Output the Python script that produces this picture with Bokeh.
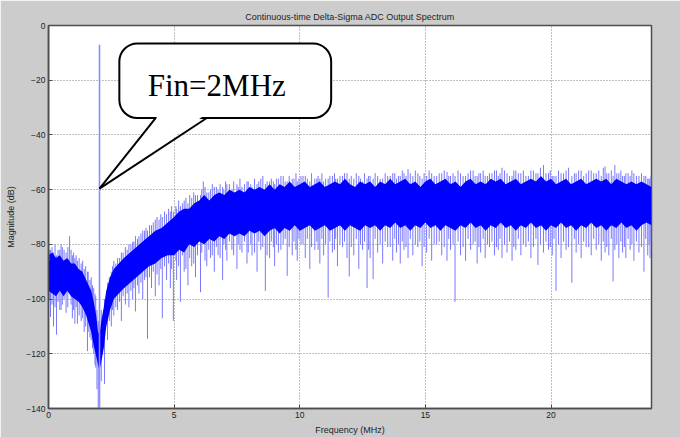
from bokeh.plotting import figure
from bokeh.models import (BoxAnnotation, PolyAnnotation, Label, FixedTicker, Range1d,
                          ColumnDataSource, Arrow)
from bokeh.embed import file_html
from bokeh.resources import INLINE

TITLE = "Continuous-time Delta-Sigma ADC Output Spectrum"
X_LABEL = "Frequency (MHz)"
Y_LABEL = "Magnitude (dB)"
X_TICKS = [0, 5, 10, 15, 20]
Y_TICKS = [0, -20, -40, -60, -80, -100, -120, -140]

# DC bin and the 2 MHz input tone (MHz, top dB, bottom dB)
tone_freq = [0.0, 2.03]
tone_top = [0, -7]
tone_bot = [-86, -140]

# dense core of the noise floor (MHz, dB)
env_freq = [0.0, 0.15, 0.3, 0.45, 0.6, 0.75, 0.9, 1.05, 1.2, 1.35, 1.5, 1.6, 1.7, 1.8, 1.9, 1.97,
            2.03, 2.1, 2.2, 2.3, 2.45, 2.6, 2.8, 3.0, 3.25, 3.5, 3.75, 4.0, 4.25, 4.5, 4.75,
            5.0, 5.2, 5.4, 5.6, 5.8, 6.0, 6.2, 6.4, 6.6, 6.8, 7.0, 7.2, 7.4, 7.6, 7.8,
            8.0, 8.2, 8.4, 8.6, 8.8, 9.0, 9.2, 9.4, 9.6, 9.8, 10.0, 10.2, 10.4, 10.6, 10.8,
            11.0, 11.2, 11.4, 11.6, 11.8, 12.0, 12.2, 12.4, 12.6, 12.8, 13.0, 13.2, 13.4,
            13.6, 13.8, 14.0, 14.2, 14.4, 14.6, 14.8, 15.0, 15.2, 15.4, 15.6, 15.8, 16.0,
            16.2, 16.4, 16.6, 16.8, 17.0, 17.2, 17.4, 17.6, 17.8, 18.0, 18.2, 18.4, 18.6,
            18.8, 19.0, 19.2, 19.4, 19.6, 19.8, 20.0, 20.2, 20.4, 20.6, 20.8, 21.0, 21.2,
            21.4, 21.6, 21.8, 22.0, 22.2, 22.4, 22.6, 22.8, 23.0, 23.2, 23.4, 23.6, 23.8, 24.0]
env_top = [-84, -83, -85, -84, -86, -85, -87, -87, -89, -90, -93, -95, -97, -101, -106, -112,
           -113, -108, -103, -97, -92, -89, -87, -85, -83, -81, -79, -77, -75, -74, -72,
           -70, -68, -67, -67, -65, -64, -62, -64, -62, -61, -62, -60, -61, -60, -61,
           -59, -60, -59, -60, -58, -60, -58, -59, -57, -59, -58, -57, -59, -58, -57,
           -59, -58, -57, -58, -56, -58, -59, -57, -58, -57, -59, -57, -58,
           -56, -58, -57, -56, -58, -57, -59, -57, -56, -58, -57, -56, -58,
           -57, -59, -57, -56, -58, -57, -58, -56, -57, -56, -58, -57, -56,
           -58, -57, -56, -57, -55, -57, -56, -58, -57, -56, -58, -57, -56,
           -58, -57, -56, -57, -56, -58, -56, -57, -58, -57, -58, -57, -58, -59]
env_bot = [-97, -98, -99, -97, -99, -97, -99, -100, -101, -103, -106, -109, -112, -117, -121, -124,
           -126, -123, -118, -110, -104, -100, -98, -96, -94, -92, -90, -88, -87, -85, -84,
           -84, -82, -83, -80, -81, -79, -80, -78, -79, -77, -78, -76, -77, -76, -77,
           -75, -76, -75, -77, -75, -74, -76, -74, -75, -73, -75, -74, -73, -75, -74,
           -73, -75, -74, -73, -75, -73, -74, -75, -73, -74, -73, -75, -73,
           -74, -72, -74, -73, -75, -73, -74, -72, -74, -73, -75, -73, -74,
           -75, -73, -74, -72, -74, -73, -75, -73, -74, -72, -74, -73, -75,
           -73, -74, -72, -74, -73, -75, -73, -74, -72, -74, -73, -75, -73,
           -74, -72, -74, -73, -75, -73, -74, -72, -74, -73, -75, -73, -72, -73]

# single bins standing out of the core (MHz, top dB, bottom dB)
spike_freq = [0.08, 0.2, 0.32, 0.45, 0.55, 0.7, 0.84, 0.95, 1.05, 1.15, 1.3, 1.42, 1.55,
              1.65, 1.75, 1.85, 1.93, 1.98, 2.1, 2.23, 2.35, 2.5, 2.6, 2.75, 2.9, 3.06,
              3.2, 3.35, 3.46, 3.6, 3.75, 3.94, 4.1, 4.25, 4.4, 4.53, 4.7, 4.85, 4.97, 5.1,
              5.25, 5.4, 5.55, 5.7, 5.85, 6.05, 6.16, 6.3, 6.45, 6.6, 6.75, 6.93, 7.1, 7.3,
              7.5, 7.7, 7.9, 8.1, 8.3, 8.45, 8.63, 8.8, 9.0, 9.15, 9.34, 9.5, 9.7, 9.9,
              10.05, 10.22, 10.4, 10.6, 10.8, 10.95, 11.13, 11.3, 11.5, 11.7, 11.88, 11.97,
              12.15, 12.35, 12.5, 12.68, 12.8, 12.92, 13.1, 13.3, 13.5, 13.7, 13.85, 14.0,
              14.15, 14.31, 14.5, 14.7, 14.87, 15.05, 15.25, 15.45, 15.65, 15.86, 16.0,
              16.18, 16.4, 16.6, 16.8, 17.06, 17.2, 17.38, 17.55, 17.75, 17.9, 18.05, 18.25,
              18.45, 18.6, 18.8, 19.0, 19.2, 19.48, 19.7, 19.9, 20.05, 20.2, 20.4, 20.6,
              20.83, 21.0, 21.2, 21.4, 21.6, 21.8, 22.0, 22.15, 22.3, 22.47, 22.54, 22.7,
              22.85, 22.98, 23.15, 23.3, 23.5, 23.7, 23.85, 23.94]
spike_top = [-82, -83, -84, -82, -81, -83, -77, -84, -85, -86, -87, -89, -90,
             -93, -95, -98, -104, -108, -104, -100, -94, -90, -86, -85, -83, -81,
             -80, -79, -77, -77, -75, -75, -73, -71, -71, -70, -69, -68, -68, -67,
             -66, -64, -65, -63, -62, -62, -57, -61, -60, -59, -60, -59, -58, -60,
             -58, -59, -57, -59, -58, -56, -58, -57, -58, -56, -55, -57, -56, -57,
             -55, -55, -57, -56, -56, -57, -56, -55, -56, -55, -54, -56,
             -56, -55, -57, -56, -55, -56, -55, -56, -55, -54, -56, -55,
             -54, -52.5, -55, -54, -56, -55, -54, -55, -54, -53.5, -55,
             -55, -54, -55, -53, -55, -54, -55, -54, -53, -55, -52, -54,
             -55, -53, -54, -55, -53, -54, -51, -54, -55, -55, -54, -53,
             -55, -54, -53, -54, -53, -54, -55, -51.5, -54, -55, -51, -54,
             -55, -54, -55, -54, -55, -55, -56, -56]
spike_bot = [-106.5, -110, -113, -104, -102, -105, -98, -107, -109, -109, -108, -112, -119,
             -114, -118, -124, -133, -140, -130, -131, -115, -110, -106, -104, -108, -102,
             -103, -100, -104.5, -98, -100, -114.5, -96, -99, -95, -107, -93, -96, -108, -93,
             -101, -90, -95, -88, -92, -97.5, -80, -88, -85, -90, -84, -93, -86, -82,
             -89, -83, -87, -84, -90, -82, -97, -85, -88, -83, -80, -91.5, -84, -86,
             -80, -85, -89, -82, -87, -84, -99.5, -83, -88, -81, -85, -91.7,
             -84, -89, -82, -96, -85, -92.7, -83, -87, -81, -86, -83, -87,
             -82, -85, -84, -81, -88, -83, -86, -80, -84, -86, -82,
             -101, -84, -86, -82, -87, -83, -85, -81, -84, -82, -85, -83,
             -86, -82, -84, -81, -85, -87.5, -83, -82, -84, -97, -85, -82,
             -94, -83, -85, -81, -84, -82, -86, -83, -84, -93.5, -82, -85,
             -83, -85, -82, -86, -83, -90, -84, -85]

# smaller fringes around the core (MHz, top dB, bottom dB)
fringe_freq = [0.05, 0.14, 0.26, 0.38, 0.5, 0.62, 0.77, 0.9, 1.0, 1.1, 1.22, 1.36, 1.48, 1.58,
               1.7, 1.8, 1.88,
               2.42, 2.55, 2.68, 2.83, 2.97, 3.13, 3.28, 3.4, 3.54, 3.68, 3.82, 3.88, 4.02,
               4.17, 4.32, 4.47, 4.62, 4.78, 4.9,
               5.07, 5.18, 5.33, 5.47, 5.62, 5.78, 5.93, 6.1, 6.23, 6.38, 6.52, 6.68, 6.83,
               6.98, 7.05, 7.2, 7.37, 7.55, 7.62, 7.8, 7.95, 8.05, 8.2, 8.37, 8.53, 8.7,
               8.87, 8.95, 9.07, 9.25, 9.42, 9.58, 9.77, 9.85, 9.97, 10.13, 10.3, 10.47,
               10.68, 10.73, 10.88, 11.03, 11.2, 11.38, 11.43, 11.6, 11.78, 12.05, 12.25,
               12.42, 12.58, 12.74, 13.0, 13.2, 13.4, 13.6, 13.78, 13.93, 14.08, 14.23,
               14.4, 14.6, 14.78, 14.95, 15.15, 15.35, 15.55, 15.75, 15.93, 16.1, 16.3,
               16.5, 16.7, 16.9, 16.98, 17.13, 17.3, 17.47, 17.65, 17.83, 17.97, 18.15,
               18.35, 18.52, 18.7, 18.9, 19.1, 19.3, 19.4, 19.58, 19.8, 19.97, 20.12,
               20.3, 20.5, 20.7, 20.93, 21.1, 21.3, 21.5, 21.7, 21.9, 22.08, 22.22, 22.4,
               22.62, 22.78, 22.92, 23.07, 23.22, 23.4, 23.6, 23.77, 23.9, 23.98]
fringe_top = [-82, -81, -80, -82, -80, -82, -81, -82, -83, -84, -85, -86, -88, -90,
              -92, -96, -99,
              -92, -88, -87, -85, -83, -82, -80, -79, -78, -76, -75, -74, -73,
              -72, -70, -69, -68, -67, -66,
              -66, -64, -65, -63, -62, -61, -62, -60, -59, -61, -58, -59, -58,
              -60, -57, -58, -57, -59, -56, -58, -57, -58, -56, -57, -55, -57,
              -56, -57, -56, -55, -57, -55, -56, -54, -56, -55, -56, -54,
              -56, -55, -54, -56, -55, -54, -56, -55, -54, -55, -54,
              -56, -54, -55, -54, -56, -54, -55, -54, -55, -53, -55,
              -54, -53, -55, -54, -53, -55, -54, -53, -55, -54, -53,
              -55, -54, -53, -55, -54, -53, -55, -54, -53, -54, -53,
              -55, -53, -54, -53, -55, -53, -54, -52, -54, -53, -55,
              -53, -54, -52, -54, -53, -55, -53, -54, -53, -52, -54, -53,
              -54, -53, -55, -54, -53, -55, -54, -55, -56, -55]
fringe_bot = [-100, -102, -103, -101, -104, -100, -103, -102, -104, -103, -106, -107, -110, -112,
              -115, -120, -125,
              -108, -104, -103, -101, -99, -98, -97, -96, -95, -94, -93, -92, -92,
              -90, -91, -89, -88, -87, -89,
              -86, -88, -84, -89, -85, -87, -84, -83, -86, -82, -84, -81, -85,
              -80, -82, -79, -84, -80, -82, -79, -83, -80, -83, -79, -81, -84,
              -79, -81, -80, -82, -78, -81, -79, -82, -78, -80, -78, -81,
              -79, -82, -78, -80, -79, -82, -78, -80, -79, -81, -78,
              -80, -79, -82, -78, -80, -79, -81, -78, -80, -79, -81,
              -78, -80, -79, -81, -78, -80, -79, -81, -78, -80, -79,
              -81, -78, -80, -79, -81, -78, -80, -79, -81, -78, -80,
              -79, -81, -78, -80, -79, -81, -78, -80, -79, -81, -78,
              -80, -79, -81, -78, -80, -79, -81, -78, -80, -79, -81, -78,
              -80, -79, -81, -78, -80, -79, -81, -78, -80, -79]

# call-out annotation ("Fin=2MHz"), in data units
CALLOUT_TEXT = "Fin=2MHz"
CALLOUT_BOX = dict(left=2.82, right=11.25, top=-6.6, bottom=-33.8)
CALLOUT_TAIL_X = [4.27, 2.03, 6.3]
CALLOUT_TAIL_Y = [-33.8, -59.6, -33.8]
CALLOUT_TEXT_POS = (3.95, -21.8)

BLUE = "#0000ff"
LIGHT_BLUE = "#7878ff"
TONE_BLUE = "#8c8cff"
AXIS_GRAY = "#4d4d4d"
TEXT_COLOR = "#222222"
FONT = "Liberation Sans"

p = figure(width=680, height=437, output_backend="svg", toolbar_location=None,
           x_range=Range1d(0, 24), y_range=Range1d(-140, 0),
           min_border_left=48, min_border_right=29, min_border_top=25, min_border_bottom=26,
           border_fill_color="#cccccc", background_fill_color="white", title=TITLE)

p.title.text_font = FONT
p.title.text_font_size = "9px"
p.title.text_font_style = "normal"
p.title.text_color = TEXT_COLOR
p.title.align = "center"
p.title.standoff = 7

p.outline_line_color = AXIS_GRAY
p.outline_line_width = 1.5

for ax, ticks in ((p.xaxis[0], X_TICKS), (p.yaxis[0], Y_TICKS)):
    ax.ticker = FixedTicker(ticks=ticks)
    ax.axis_line_color = AXIS_GRAY
    ax.axis_line_width = 1.5
    ax.major_tick_line_color = AXIS_GRAY
    ax.major_tick_in = 4
    ax.major_tick_out = 0
    ax.minor_tick_line_color = None
    ax.major_label_text_font = FONT
    ax.major_label_text_font_size = "8.5px"
    ax.major_label_text_color = TEXT_COLOR
    ax.major_label_standoff = 3
    ax.axis_label_text_font = FONT
    ax.axis_label_text_font_size = "9px"
    ax.axis_label_text_font_style = "normal"
    ax.axis_label_text_color = TEXT_COLOR

p.xaxis.axis_label = X_LABEL
p.yaxis.axis_label = Y_LABEL
p.xaxis.axis_label_standoff = 4
p.yaxis.axis_label_standoff = 7

for g in (p.xgrid[0], p.ygrid[0]):
    g.grid_line_color = "#808080"
    g.grid_line_dash = "1 2"
    g.grid_line_width = 1
p.xgrid.ticker = FixedTicker(ticks=X_TICKS)
p.ygrid.ticker = FixedTicker(ticks=Y_TICKS)

spk_src = ColumnDataSource(dict(f=spike_freq, top=spike_top, bot=spike_bot))
p.segment(x0="f", y0="top", x1="f", y1="bot", source=spk_src,
          line_color=LIGHT_BLUE, line_width=1)
fr_src = ColumnDataSource(dict(f=fringe_freq, top=fringe_top, bot=fringe_bot))
p.segment(x0="f", y0="top", x1="f", y1="bot", source=fr_src,
          line_color=LIGHT_BLUE, line_width=1)

env_src = ColumnDataSource(dict(f=env_freq, top=env_top, bot=env_bot))
p.varea(x="f", y1="bot", y2="top", source=env_src, fill_color=BLUE, fill_alpha=1.0)

tone_src = ColumnDataSource(dict(f=tone_freq, top=tone_top, bot=tone_bot))
p.segment(x0="f", y0="top", x1="f", y1="bot", source=tone_src,
          line_color=TONE_BLUE, line_width=1.6)

# call-out bubble
box = BoxAnnotation(fill_color="white", fill_alpha=1.0, line_color="black", line_alpha=1.0,
                    line_width=2, border_radius=18, level="overlay", **CALLOUT_BOX)
p.add_layout(box)
tail_fill = PolyAnnotation(xs=[CALLOUT_TAIL_X[0] + 0.1, CALLOUT_TAIL_X[1] + 0.08, CALLOUT_TAIL_X[2] - 0.1],
                           ys=[CALLOUT_TAIL_Y[0] + 0.9, CALLOUT_TAIL_Y[1] + 1.2, CALLOUT_TAIL_Y[2] + 0.9],
                           fill_color="white", fill_alpha=1.0, line_color=None, level="overlay")
p.add_layout(tail_fill)
for i in (0, 2):
    p.add_layout(Arrow(end=None, x_start=CALLOUT_TAIL_X[i], y_start=CALLOUT_TAIL_Y[i],
                       x_end=CALLOUT_TAIL_X[1], y_end=CALLOUT_TAIL_Y[1],
                       line_color="black", line_width=2, level="overlay"))
p.add_layout(Label(x=CALLOUT_TEXT_POS[0], y=CALLOUT_TEXT_POS[1], text=CALLOUT_TEXT,
                   text_font="Liberation Serif", text_font_size="31px", text_color="black",
                   text_baseline="alphabetic", level="overlay"))

open("out.html", "w").write(file_html(p, INLINE))
